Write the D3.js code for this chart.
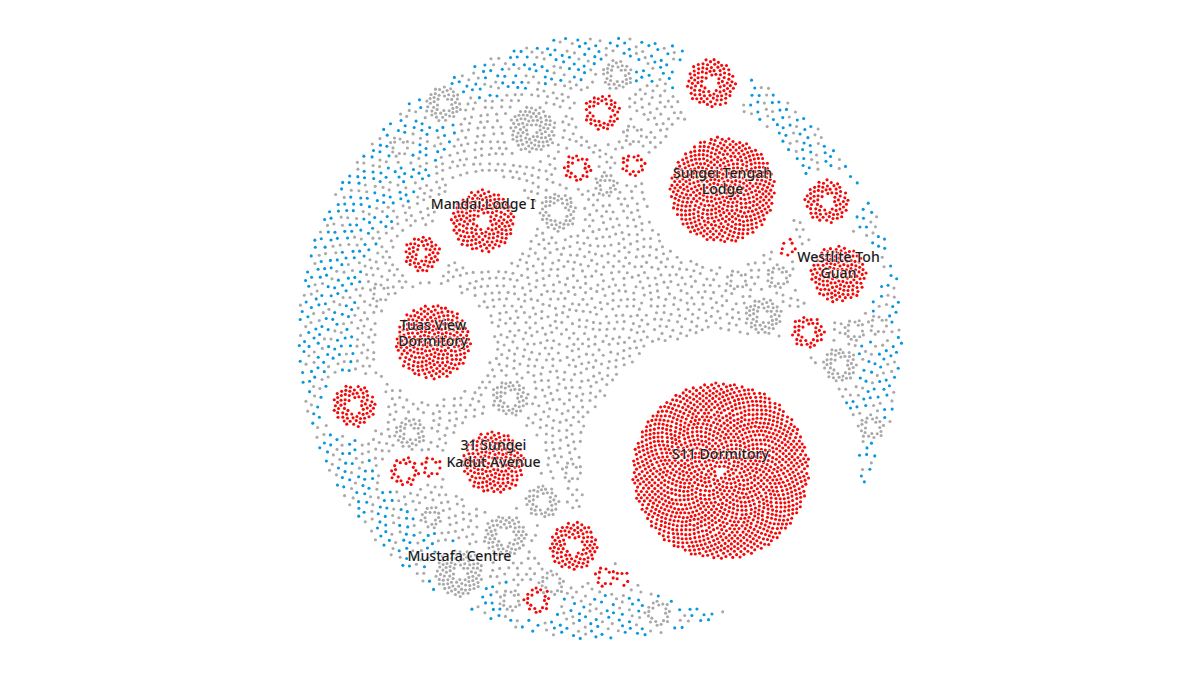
<!DOCTYPE html>
<html><head><meta charset="utf-8">
<script src="https://cdn.jsdelivr.net/npm/d3@7/dist/d3.min.js"></script>
<style>html,body{margin:0;background:#fff}svg{display:block}</style></head>
<body><svg id="c" width="1200" height="675"></svg>
<script>
// Cluster table. Locations are in map units (1 unit = 10 px of the frame).
const clusterNames = [
 "S11 Dormitory","Sungei Tengah\nLodge","Tuas View\nDormitory","Westlite Toh\nGuan","31 Sungei\nKadut Avenue","Mandai Lodge I",
 "","","","","","","","","","","","","","","",
 "Mustafa Centre","","","","","","","","","","","","","","","","","","","","","","","",""];
const clusterGroups = "RRRRRRRRRRRRRRRRRRRRRGGGGGGGGGGGGGGGGGGGGGGGGG".split("");
const clusterX = [72.05,72.25,43.3,83.85,49.35,48.3,42.2,71.1,82.7,60.2,57.75,63.3,78.8,80.8,35.4,40.45,43.15,57.35,60.5,62.3,53.7,
 45.95,44.35,53.25,61.7,55.8,60.6,63.3,39.9,38,73.7,77.8,76.3,85.4,87.8,84,87.15,51,41,54.25,50.5,43.1,57.2,55.2,51,65.8];
const clusterY = [47.1,19,34.2,27.4,46.25,22.1,25.4,8.3,20.15,11.25,16.8,16.5,24.8,33.2,40.55,47.15,46.7,54.6,57.7,57.8,60,
 57.3,10.4,12.95,7.5,21.2,18.5,13.5,14.7,29.3,28,27.7,31.6,33,32.5,36.5,42.7,39.8,43.3,50.15,53.6,51.7,47.2,58.3,60,61.3];
const clusterCounts = [1386,493,244,139,170,163,53,94,74,43,24,18,8,37,70,24,12,92,12,6,21,
 93,49,91,34,50,22,12,12,12,14,20,52,16,12,43,22,49,37,40,68,18,12,19,16,21];
const clusterSkips = [4,2,2,2,2,9,5,9,9,15,9,6,5,9,9,11,6,11,6,4,9,
 6,6,4,6,15,4,6,6,6,6,6,6,6,6,9,6,9,6,9,11,4,6,9,6,9];
// Remaining cases, and the radius (map units from the centre) at which the outer blue band starts, by bearing.
const backgroundSlots = 5170;
const bandBearing = [0,18,21,27,29,50,60,70,80,90,105,120,145,160,175,190,204,209,216,240,250,270,290,310,325,331,345,360];
const bandStart   = [26,25.5,40,40,27.5,26,26.5,28,28,26.2,25,25,26,26,25.8,26.2,25.8,28.5,24.8,26.2,26.2,24.5,24.5,23,25,26.8,25.8,26];
const colours = {R:"#f40808", G:"#a9a9a9", B:"#0a97dc"};

const svg = d3.select("#c");
const x = d3.scaleLinear([0,120],[0,1200]);
const y = d3.scaleLinear([0,67.5],[0,675]);
const centre = [60,33.8], outer = 30.2;
const golden = Math.PI*(3-Math.sqrt(5));
const clusterRadius = d3.scaleSqrt().domain([0,1390]).range([0,8.8]);
const bgRadius = d3.scaleSqrt().domain([0,backgroundSlots]).range([0,outer]);
const band = d3.scaleLinear(bandBearing,bandStart);

const clusters = clusterNames.map((name,k)=>({name,group:clusterGroups[k],cx:clusterX[k],cy:clusterY[k],n:clusterCounts[k],skip:clusterSkips[k]}));
clusters.forEach((c,k)=>{
  c.r = clusterRadius(c.n+c.skip);
  c.halo = c.r*(k===1?1.46:c.group==="R"?1.58:1.3);
});
const dots=[];
// a small index-based wobble breaks the perfect spiral, then collision relaxes it
const wobble=i=>[Math.sin(i*2.17+1)*Math.cos(i*0.73),Math.sin(i*1.31)*Math.cos(i*3.07+2)];
clusters.forEach(c=>{
  for(let i=0;i<c.n;i++){
    const s=c.skip+i+0.5, a=s*golden, r=clusterRadius(s), w=wobble(i*3+1);
    const mx=c.cx+r*Math.cos(a)+w[0]*0.1,my=c.cy+r*Math.sin(a)+w[1]*0.1;
    dots.push({mx,my,hx:mx,hy:my,g:c.group,bg:false,rad:0.205,c});
  }
});
for(let i=0;i<backgroundSlots;i++){
  const s=i+0.5,a=s*golden,r=bgRadius(s),w=wobble(i);
  const mx=centre[0]+r*Math.cos(a)+w[0]*0.28,my=centre[1]+r*Math.sin(a)+w[1]*0.28;
  if(clusters.some(c=>Math.hypot(mx-c.cx,my-c.cy)<c.halo)) continue;
  if(Math.hypot(mx-centre[0],my-centre[1])>outer) continue;
  const bearing=(Math.atan2(mx-centre[0],centre[1]-my)*180/Math.PI+360)%360;
  const inBand=r>band(bearing);
  dots.push({mx,my,hx:mx,hy:my,g:inBand&&((i*0.7548776662)%1)<0.62?"B":"G",bg:true,rad:0.33});
}
const sim=d3.forceSimulation(dots).stop()
  .force("collide",d3.forceCollide(d=>d.rad).strength(.5).iterations(2))
  .force("hx",d3.forceX(d=>d.hx).strength(.12))
  .force("hy",d3.forceY(d=>d.hy).strength(.12))
  .alpha(.6).alphaDecay(.05);
dots.forEach(d=>{d.x=d.mx;d.y=d.my;});
sim.tick(30);
svg.append("g").selectAll("circle").data(dots).join("circle")
  .attr("cx",d=>x(d.x)).attr("cy",d=>y(d.y)).attr("r",1.55).attr("fill",d=>colours[d.g]);

const lineStep=1.65, topOffset=1.7;
const label=svg.append("g").selectAll("text").data(clusters.filter(c=>c.name)).join("text")
  .attr("text-anchor","middle")
  .attr("font-family","'Noto Sans',sans-serif").attr("font-size",14.1).attr("font-weight",500)
  .attr("fill","#1c1c1c").attr("stroke","#fff").attr("stroke-opacity",.55).attr("stroke-width",1.6).attr("paint-order","stroke");
label.selectAll("tspan").data(c=>c.name.split("\n").map((t,i)=>({t,lx:c.cx,ly:c.cy-topOffset+i*lineStep}))).join("tspan")
  .attr("x",d=>x(d.lx)).attr("y",d=>y(d.ly)).attr("dy","0.35em").text(d=>d.t);
</script></body></html>
